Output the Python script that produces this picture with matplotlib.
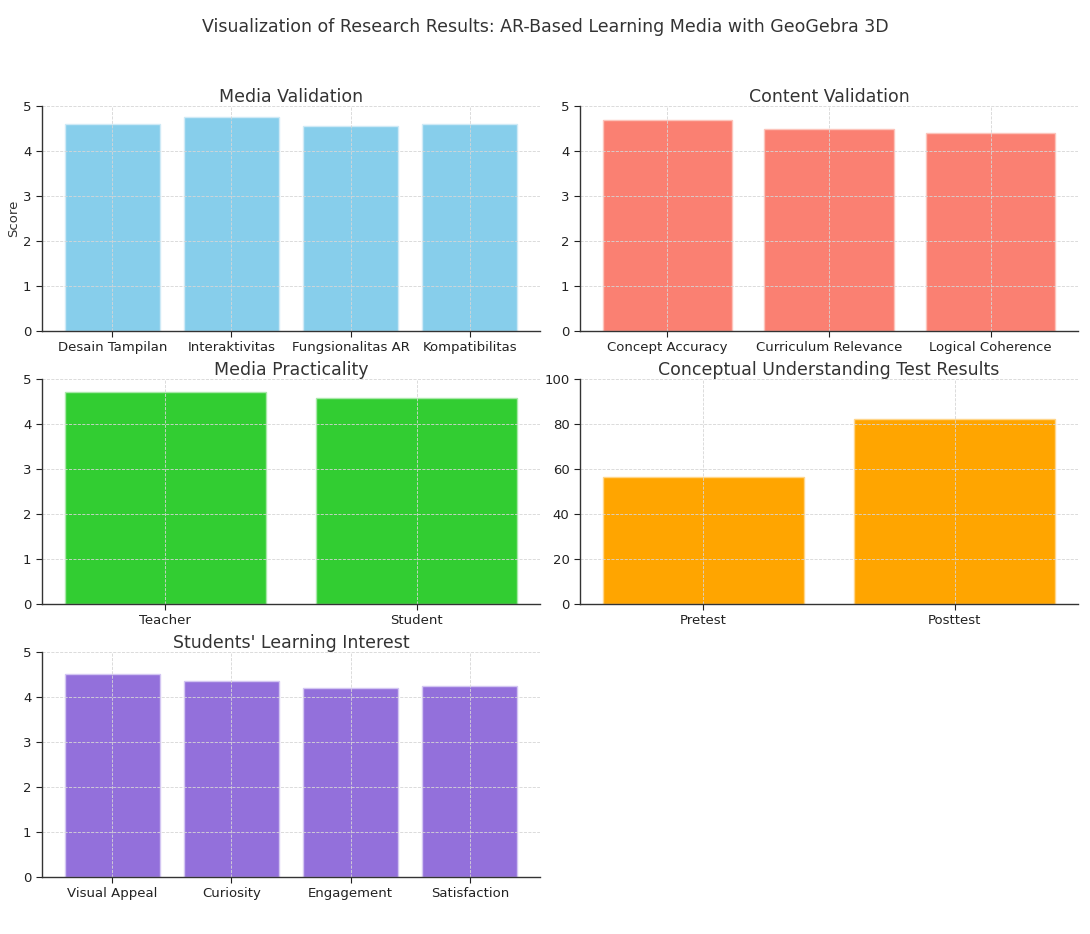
import matplotlib
matplotlib.use("Agg")
import matplotlib.pyplot as plt

# Data
media_cats = ["Desain Tampilan", "Interaktivitas", "Fungsionalitas AR", "Kompatibilitas"]
media_vals = [4.6, 4.75, 4.55, 4.6]

content_cats = ["Concept Accuracy", "Curriculum Relevance", "Logical Coherence"]
content_vals = [4.7, 4.5, 4.4]

pract_cats = ["Teacher", "Student"]
pract_vals = [4.7, 4.57]

test_cats = ["Pretest", "Posttest"]
test_vals = [56.5, 82.2]

interest_cats = ["Visual Appeal", "Curiosity", "Engagement", "Satisfaction"]
interest_vals = [4.5, 4.35, 4.2, 4.25]

TEXT = "#333333"
plt.rcParams.update({
    "font.family": "DejaVu Sans",
    "text.color": TEXT,
    "axes.labelcolor": TEXT,
    "xtick.color": "#222222",
    "ytick.color": "#222222",
    "axes.edgecolor": "#333333",
})

fig, axes = plt.subplots(3, 2, figsize=(10.9, 9.34), dpi=100)
fig.subplots_adjust(left=0.0385, right=0.989, top=0.8865, bottom=0.061,
                    wspace=0.08, hspace=0.213)

panels = [
    (axes[0, 0], media_cats, media_vals, "skyblue", "#cfeaf6", "Media Validation", (0, 5), "Score"),
    (axes[0, 1], content_cats, content_vals, "salmon", "#fcc4bb", "Content Validation", (0, 5), None),
    (axes[1, 0], pract_cats, pract_vals, "limegreen", "#a9e8a9", "Media Practicality", (0, 5), None),
    (axes[1, 1], test_cats, test_vals, "orange", "#ffd68a", "Conceptual Understanding Test Results", (0, 100), None),
    (axes[2, 0], interest_cats, interest_vals, "mediumpurple", "#d3c6f2", "Students' Learning Interest", (0, 5), None),
]

for ax, cats, vals, col, ecol, title, ylim, ylabel in panels:
    ax.bar(cats, vals, color=col, edgecolor=ecol, linewidth=1.0, zorder=2)
    ax.set_ylim(*ylim)
    ax.set_title(title, fontsize=12.5, color=TEXT, pad=3)
    if ylabel:
        ax.set_ylabel(ylabel, fontsize=9.5, labelpad=2)
    ax.grid(True, linestyle="--", color="#d6d6d6", linewidth=0.6, zorder=0)
    ax.set_axisbelow(False)
    for s in ("top", "right"):
        ax.spines[s].set_visible(False)
    for s in ("left", "bottom"):
        ax.spines[s].set_linewidth(1.0)
        ax.spines[s].set_zorder(3)
    ax.tick_params(labelsize=9.5, length=4)

axes[2, 1].remove()

fig.suptitle("Visualization of Research Results: AR-Based Learning Media with GeoGebra 3D",
             fontsize=12.5, color=TEXT, y=0.981)

fig.savefig("out.png", dpi=100)
